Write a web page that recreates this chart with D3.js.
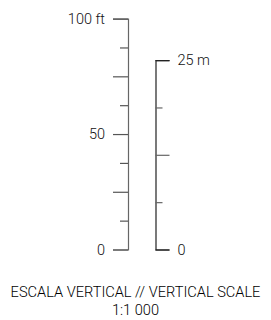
<!DOCTYPE html>
<html><head><meta charset="utf-8">
<script src="https://cdn.jsdelivr.net/npm/d3@7"></script>
<style>html,body{margin:0;padding:0;background:#fff}</style>
</head><body>
<svg id="c" width="271" height="320"></svg>
<script>
const ftTicks = [0, 12.5, 25, 37.5, 50, 62.5, 75, 87.5, 100];
const ftLabels = ["0", "50", "100 ft"];
const ftLabelValues = [0, 50, 100];
const mTicks = [0, 6.25, 12.5, 18.75, 25];
const mLabels = ["0", "25 m"];
const mLabelValues = [0, 25];
const titleLines = ["ESCALA VERTICAL // VERTICAL SCALE", "1:1 000"];
const FT_PER_M = 3.28084;

const svg = d3.select("#c");
const font = "Roboto, 'Liberation Sans', sans-serif";
const yFt = d3.scaleLinear().domain([0, 100]).range([249.5, 18.6]);
const yM = d3.scaleLinear().domain([0, 25]).range([yFt(0), yFt(25 * FT_PER_M)]);

// left axis (feet)
const gL = svg.append("g").attr("transform", "translate(128,0)");
gL.call(d3.axisLeft(yFt).tickValues(ftTicks).tickFormat("").tickSizeOuter(0).tickSize(15));
gL.select(".domain").attr("stroke", "#666").attr("stroke-width", 1.2);
gL.selectAll(".tick line")
  .attr("stroke", "#555")
  .attr("stroke-width", 1.2)
  .attr("x2", d => (d % 25 === 0 ? -15 : -8));
gL.selectAll(".lbl").data(ftLabelValues).join("text")
  .attr("x", -23).attr("y", d => yFt(d)).attr("dy", "0.36em")
  .attr("text-anchor", "end")
  .attr("font-family", font).attr("font-weight", 300).attr("font-size", 14.5)
  .attr("fill", "#111")
  .text((d, i) => ftLabels[i]);

// right axis (meters)
const gR = svg.append("g").attr("transform", "translate(155.5,0)");
gR.call(d3.axisRight(yM).tickValues(mTicks).tickFormat("").tickSizeOuter(0).tickSize(14));
gR.select(".domain").attr("stroke", "#222").attr("stroke-width", 1.2);
gR.selectAll(".tick line")
  .attr("stroke", d => (d === 0 || d === 25 ? "#222" : "#666"))
  .attr("stroke-width", 1.2)
  .attr("x2", d => (d % 12.5 === 0 ? 14 : 7));
gR.selectAll(".lbl").data(mLabelValues).join("text")
  .attr("x", 22).attr("y", d => yM(d)).attr("dy", "0.36em")
  .attr("text-anchor", "start")
  .attr("font-family", font).attr("font-weight", 300).attr("font-size", 14.5)
  .attr("fill", "#111")
  .text((d, i) => mLabels[i]);

// title
svg.selectAll(".title").data(titleLines).join("text")
  .attr("x", 135.5).attr("y", (d, i) => 296.5 + i * 18.5)
  .attr("text-anchor", "middle")
  .attr("font-family", font).attr("font-weight", 300).attr("font-size", 14.6)
  .attr("fill", "#000")
  .text(d => d);
</script>
</body></html>
